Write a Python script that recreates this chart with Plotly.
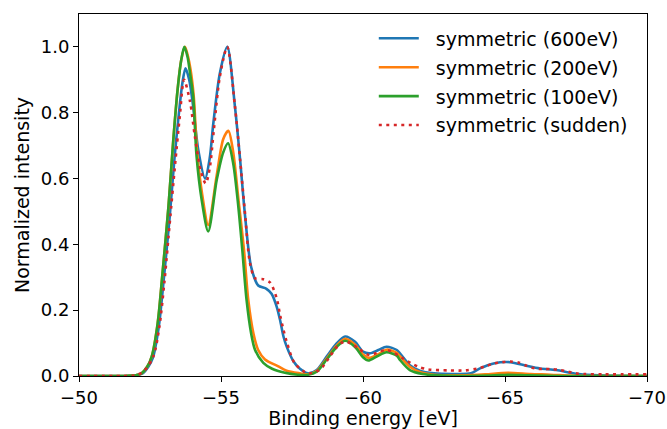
import plotly.graph_objects as go

# ---- data ----
x_600 = [-50, -51.5, -52.0, -52.24, -52.44, -52.6, -52.81, -52.98, -53.19, -53.36, -53.52, -53.64, -53.75,
         -53.88, -54.02, -54.2, -54.44, -54.6, -54.73, -54.96, -55.22, -55.49, -55.67, -55.85, -56.06,
         -56.31, -56.6, -56.78, -56.96, -57.08, -57.2, -57.31, -57.55, -57.78, -58.07, -58.37, -58.72,
         -59.07, -59.37, -59.72, -60.0, -60.25, -60.54, -60.83, -61.19, -61.3, -61.65, -62.0, -62.5,
         -63.2, -63.8, -64.12, -64.6, -65.18, -65.76, -66.23, -66.8, -67.3, -67.6, -68.3, -70]
y_600 = [0, 0, 0.002, 0.008, 0.028, 0.055, 0.15, 0.29, 0.48, 0.66, 0.8, 0.89, 0.935,
         0.9, 0.819, 0.687, 0.6, 0.66, 0.768, 0.92, 1.0, 0.819, 0.66, 0.484, 0.332,
         0.275, 0.265, 0.25, 0.211, 0.17, 0.12, 0.09, 0.045, 0.022, 0.008, 0.018, 0.059,
         0.099, 0.12, 0.104, 0.074, 0.069, 0.079, 0.089, 0.079, 0.069, 0.033, 0.016, 0.008,
         0.006, 0.008, 0.023, 0.038, 0.042, 0.031, 0.023, 0.018, 0.01, 0.006, 0.002, 0]

x_200 = [-50, -51.5, -52.0, -52.2, -52.4, -52.56, -52.77, -52.94, -53.15, -53.32, -53.47, -53.6, -53.73,
         -53.84, -53.93, -54.04, -54.16, -54.34, -54.55, -54.85, -55.08, -55.26, -55.43, -55.61, -55.81,
         -55.96, -56.14, -56.31, -56.55, -57.0, -57.31, -57.78, -58.05, -58.37, -58.72, -59.07, -59.37,
         -59.72, -60.0, -60.2, -60.54, -60.83, -61.19, -61.3, -61.65, -62.0, -62.5, -63.5, -64.3, -65.1,
         -65.9, -66.6, -67.3, -68, -70]
y_200 = [0, 0, 0.002, 0.008, 0.028, 0.059, 0.16, 0.312, 0.515, 0.717, 0.869, 0.96, 1.0,
         0.97, 0.93, 0.85, 0.68, 0.55, 0.459, 0.61, 0.72, 0.745, 0.68, 0.54, 0.383,
         0.231, 0.13, 0.079, 0.05, 0.03, 0.016, 0.008, 0.005, 0.015, 0.053, 0.092, 0.113,
         0.095, 0.065, 0.055, 0.066, 0.08, 0.07, 0.06, 0.028, 0.012, 0.004, 0.002, 0.005, 0.01,
         0.006, 0.004, 0.001, 0, 0]

x_100 = [-50, -51.5, -52.0, -52.2, -52.4, -52.56, -52.77, -52.94, -53.15, -53.32, -53.47, -53.6, -53.71,
         -53.82, -53.91, -54.02, -54.14, -54.32, -54.55, -54.85, -55.08, -55.25, -55.43, -55.61, -55.75,
         -55.9, -56.06, -56.2, -56.49, -56.8, -57.25, -57.7, -58.0, -58.37, -58.72, -59.07, -59.37,
         -59.72, -60.0, -60.19, -60.5, -60.83, -61.19, -61.3, -61.65, -62.1, -62.6, -64.5, -65.1,
         -65.8, -67, -70]
y_100 = [0, 0, 0.002, 0.008, 0.028, 0.059, 0.16, 0.312, 0.515, 0.717, 0.869, 0.96, 1.0,
         0.97, 0.92, 0.85, 0.667, 0.535, 0.439, 0.596, 0.68, 0.707, 0.646, 0.515, 0.383,
         0.231, 0.13, 0.079, 0.04, 0.022, 0.01, 0.004, 0.003, 0.013, 0.05, 0.088, 0.107,
         0.088, 0.057, 0.047, 0.06, 0.072, 0.062, 0.049, 0.018, 0.006, 0.002, 0.001, 0.004,
         0.002, 0, 0]

x_sud = [-50, -51.5, -52.0, -52.3, -52.62, -52.83, -53.0, -53.2, -53.38, -53.55, -53.7, -53.91, -54.08,
         -54.28, -54.46, -54.6, -54.75, -54.96, -55.22, -55.49, -55.67, -55.85, -56.02, -56.2, -56.49,
         -56.73, -56.96, -57.08, -57.2, -57.31, -57.6, -58.07, -58.49, -58.8, -59.1, -59.37, -59.84,
         -60.2, -60.83, -61.42, -61.69, -61.95, -62.3, -63.0, -63.6, -64.06, -64.33, -64.6, -64.9,
         -65.18, -65.47, -65.76, -66.06, -66.35, -66.65, -66.94, -67.23, -67.5, -67.8, -68.5, -70]
y_sud = [0, 0, 0.002, 0.016, 0.06, 0.15, 0.28, 0.47, 0.64, 0.79, 0.9, 0.834, 0.728,
         0.626, 0.585, 0.63, 0.75, 0.91, 1.0, 0.82, 0.66, 0.49, 0.343, 0.297, 0.294,
         0.284, 0.236, 0.185, 0.14, 0.105, 0.038, 0.008, 0.02, 0.055, 0.09, 0.105, 0.084,
         0.064, 0.079, 0.053, 0.039, 0.028, 0.02, 0.017, 0.017, 0.023, 0.03, 0.038, 0.042,
         0.044, 0.041, 0.031, 0.023, 0.021, 0.021, 0.018, 0.013, 0.008, 0.006, 0.005, 0.005]

names = ["symmetric (600eV)", "symmetric (200eV)", "symmetric (100eV)", "symmetric (sudden)"]
colors = ["#1f77b4", "#ff7f0e", "#2ca02c", "#d62728"]

x_ticks = [-50, -55, -60, -65, -70]
x_ticktext = ["\u221250", "\u221255", "\u221260", "\u221265", "\u221270"]
y_ticks = [0.0, 0.2, 0.4, 0.6, 0.8, 1.0]

FONT = "DejaVu Sans"
FS = 19
TICK_FS = 18

fig = go.Figure()
series = [(x_600, y_600), (x_200, y_200), (x_100, y_100), (x_sud, y_sud)]
for i, ((xs, ys), nm, c) in enumerate(zip(series, names, colors)):
    dash = "3px,4.5px" if i == 3 else "solid"
    fig.add_trace(go.Scatter(
        x=xs, y=ys, mode="lines", name="\u00a0\u00a0" + nm, legendgroup=str(i),
        line=dict(color=c, width=2.6, dash=dash, shape="spline", smoothing=0.8),
    ))

fig.update_layout(
    width=667, height=429,
    margin=dict(l=79, r=20, t=14, b=53),
    paper_bgcolor="white", plot_bgcolor="white",
    font=dict(family=FONT, size=FS, color="black"),
    showlegend=True,
    legend=dict(x=0.519, y=0.985, xanchor="left", yanchor="top",
                bgcolor="rgba(0,0,0,0)", borderwidth=0,
                font=dict(family=FONT, size=FS, color="black"),
                tracegroupgap=1.2, itemwidth=40, traceorder="grouped"),
)
fig.update_xaxes(
    range=[-50, -70], tickvals=x_ticks, ticktext=x_ticktext, automargin=False,
    tickfont=dict(family=FONT, size=TICK_FS, color="black"),
    showline=True, linecolor="black", linewidth=1.1, mirror=True,
    ticks="outside", ticklen=5, tickwidth=1.1, tickcolor="black",
    showgrid=False, zeroline=False,
    title=dict(text="Binding energy [eV]", standoff=3, font=dict(family=FONT, size=FS)),
)
fig.update_yaxes(
    range=[0, 1.1], tickvals=y_ticks, tickformat=".1f", automargin=False,
    tickfont=dict(family=FONT, size=TICK_FS, color="black"),
    showline=True, linecolor="black", linewidth=1.1, mirror=True,
    ticks="outside", ticklen=5, tickwidth=1.1, tickcolor="black",
    showgrid=False, zeroline=False,
    title=dict(text="Normalized intensity", standoff=6, font=dict(family=FONT, size=FS)),
)

fig.write_html(
    "out.html",
    config={"displayModeBar": False},
    post_script="document.body.style.margin='0';document.body.style.padding='0';"
                "document.body.style.overflow='hidden';",
)
